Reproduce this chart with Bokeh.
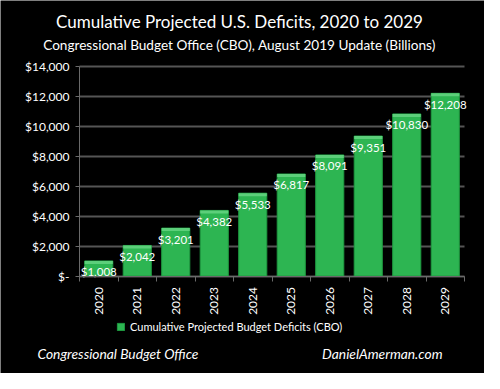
from bokeh.plotting import figure
from bokeh.models import (FixedTicker, Legend, LegendItem, ColumnDataSource, Label, Grid)
from bokeh.transform import dodge
from bokeh.embed import file_html
from bokeh.resources import INLINE
from bokeh.core.properties import value
import math

years = ["2020", "2021", "2022", "2023", "2024", "2025", "2026", "2027", "2028", "2029"]
deficits = [1008, 2042, 3201, 4382, 5533, 6817, 8091, 9351, 10830, 12208]
value_labels = ["$1,008", "$2,042", "$3,201", "$4,382", "$5,533", "$6,817", "$8,091", "$9,351", "$10,830", "$12,208"]
y_ticks = [0, 2000, 4000, 6000, 8000, 10000, 12000, 14000]
y_tick_labels = ["$-", "$2,000", "$4,000", "$6,000", "$8,000", "$10,000", "$12,000", "$14,000"]

title_text = "Cumulative Projected U.S. Deficits, 2020 to 2029"
subtitle_text = "Congressional Budget Office (CBO), August 2019 Update (Billions)"
series_name = "Cumulative Projected Budget Deficits (CBO)"
footer_left = "Congressional Budget Office"
footer_right = "DanielAmerman.com"

FONT = "Lato"
W, H = 484, 373
N = len(years)
Y_TOP = y_ticks[-1]

# plot-area placement in canvas pixels (layout only)
PLOT_L, PLOT_R = 79, 464          # x of category edges 0.5 and N+0.5
PLOT_T, PLOT_B = 66, 275.5        # y of Y_TOP and 0
px_x = (PLOT_R - PLOT_L) / N
px_y = (PLOT_B - PLOT_T) / Y_TOP
x_start = 0.5 - PLOT_L / px_x
x_end = N + 0.5 + (W - PLOT_R) / px_x
y_end = Y_TOP + PLOT_T / px_y
y_start = -(H - PLOT_B) / px_y

xs = list(range(1, N + 1))
src = ColumnDataSource(dict(x=xs, top=deficits, label=value_labels))

p = figure(width=W, height=H, output_backend="svg", toolbar_location=None,
           x_range=(x_start, x_end), y_range=(y_start, y_end),
           background_fill_color="black", border_fill_color="black",
           outline_line_color=None, min_border=0)

# grid (limited to the plot area)
p.xgrid.grid_line_color = None
if "cross_bounds" in Grid.properties():
    p.ygrid.cross_bounds = (0.5, N + 0.5)
    p.ygrid.bounds = (0, Y_TOP)
    p.ygrid.grid_line_color = "#555555"
    p.ygrid.grid_line_width = 2
else:
    p.ygrid.grid_line_color = None
    p.segment(x0=[0.5] * len(y_ticks), x1=[N + 0.5] * len(y_ticks), y0=y_ticks,
              y1=y_ticks, line_color="#555555", line_width=2)

r = p.vbar(x="x", top="top", width=0.73, source=src, fill_color="#2db552",
           line_color="#1e9a40", line_width=1)
# lighter bevel along each bar's top edge (about 3px)
p.vbar(x="x", top="top", bottom=dodge("top", -3 / px_y), width=0.73, source=src,
       fill_color="#5ccf7a", line_color=None)

p.text(x="x", y="top", text="label", source=src, text_color="white",
       text_font=value(FONT), text_font_size="11.5px", text_align="center",
       text_baseline="middle", y_offset=11)

# axes at fixed positions inside the canvas
p.xaxis.fixed_location = 0
p.xaxis.bounds = (0.5, N + 0.5)
p.xaxis.ticker = FixedTicker(ticks=xs, minor_ticks=[x - 0.5 for x in xs] + [N + 0.5])
p.xaxis.major_label_overrides = {x: y for x, y in zip(xs, years)}
p.xaxis.major_label_orientation = math.pi / 2
p.xaxis.major_tick_out = 0
p.xaxis.major_tick_in = 0
p.xaxis.minor_tick_out = 5
p.xaxis.minor_tick_in = 0
p.xaxis.minor_tick_line_color = "#6a6a6a"
p.xaxis.axis_line_color = "#6a6a6a"
p.xaxis.major_label_text_color = "white"
p.xaxis.major_label_text_font = FONT
p.xaxis.major_label_text_font_size = "12px"
p.xaxis.major_label_standoff = 6

p.yaxis.fixed_location = 0.5
p.yaxis.bounds = (-300, Y_TOP)
p.yaxis.ticker = FixedTicker(ticks=y_ticks)
p.yaxis.major_label_overrides = {t: l for t, l in zip(y_ticks, y_tick_labels)}
p.yaxis.major_tick_out = 4
p.yaxis.major_tick_in = 0
p.yaxis.minor_tick_line_color = None
p.yaxis.major_tick_line_color = "#6a6a6a"
p.yaxis.axis_line_color = "#6a6a6a"
p.yaxis.major_label_text_color = "white"
p.yaxis.major_label_text_font = FONT
p.yaxis.major_label_text_font_size = "12px"
p.yaxis.major_label_standoff = 6

legend = Legend(items=[LegendItem(label=series_name, renderers=[r])],
                orientation="horizontal", background_fill_alpha=0,
                border_line_color=None, label_text_color="white",
                label_text_font=FONT, label_text_font_size="11px",
                glyph_width=9, glyph_height=9, margin=0, padding=4,
                location=(116, 40))
p.add_layout(legend, "center")

def lab(text, x, y, size, style="normal", align="center"):
    p.add_layout(Label(x=x, y=y, x_units="screen", y_units="screen", text=text,
                       text_color="white", text_font=FONT, text_font_size=size,
                       text_font_style=style, text_align=align,
                       text_baseline="middle"))

lab(title_text, 239, H - 21, "17px")
lab(subtitle_text, 239, H - 44, "13.6px")
lab(footer_left, 37, 20, "13.8px", "italic", "left")
lab(footer_right, 442, 20, "13.8px", "italic", "right")

open("out.html", "w").write(file_html(p, INLINE))
